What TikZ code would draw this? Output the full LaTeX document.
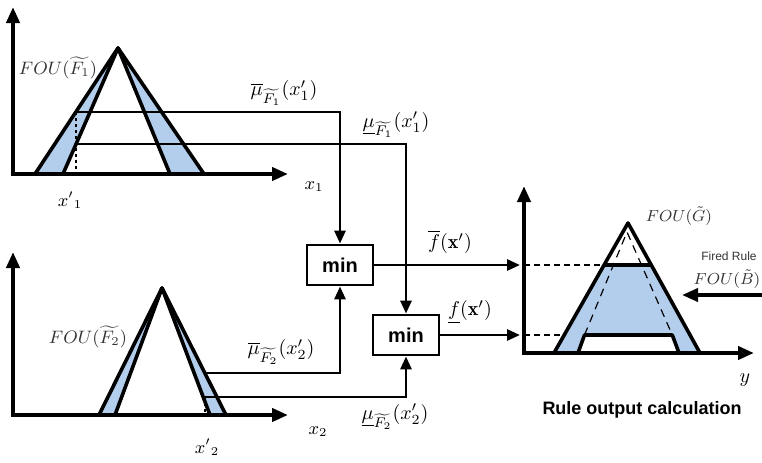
\documentclass[tikz,border=0pt]{standalone}
\usepackage{amsmath,amssymb}
\usepackage{fontspec}
\setsansfont{Liberation Sans}
\usepackage{tikz}
\usetikzlibrary{arrows.meta}
\definecolor{foublue}{RGB}{178,206,236}
\tikzset{
  axis/.style={black, line width=2pt,
               {Triangle[length=8pt,width=6.5pt]}-{Triangle[length=8pt,width=6.5pt]}},
  edge/.style={black, line width=1.8pt, line join=round},
  band/.style={fill=foublue},
  wire/.style={black, line width=1.4pt},
  flow/.style={wire, -{Triangle[length=6.5pt,width=5.5pt]}},
  bigflow/.style={black, line width=1.8pt, -{Triangle[length=8pt,width=6.5pt]}},
  level/.style={black, line width=1.4pt, dash pattern=on 1.6pt off 1.4pt},
  guide/.style={black, line width=1.4pt, dash pattern=on 3pt off 2pt},
  innerfou/.style={black, line width=0.6pt, dash pattern=on 4pt off 3pt},
  minbox/.style={draw=black, line width=1.4pt, fill=white,
                 minimum width=33pt, minimum height=20pt, inner sep=0pt,
                 font=\sffamily\bfseries},
  fou/.style={font=\small, text=black!80},
  smallfou/.style={font=\footnotesize, text=black!80},
  lab/.style={font=\normalsize},
  axlab/.style={font=\small},
}
\begin{document}
\begin{tikzpicture}[x=0.5pt,y=-0.5pt]
  \path[use as bounding box] (0,0) rectangle (762,462);

  % first antecedent
  \fill[band] (35,174) -- (118,48) -- (63,174) -- cycle;
  \fill[band] (118,48) -- (204,174) -- (170,174) -- cycle;
  \coordinate (u1) at (76,112);
  \coordinate (l1) at (76,144);
  \coordinate (xa) at (76,174);
  \draw[level] (u1) -- (xa);
  \draw[edge] (35,174) -- (118,48) -- (204,174);
  \draw[edge] (63,174) -- (118,48) -- (170,174);
  \draw[axis] (13,7) -- (13,174) -- (288,174);
  \node[fou] (fouA) at (58,68) {$FOU(\widetilde{F_1})$};
  \node[axlab] (xpA) at (70,200) {${x'}_1$};
  \node[axlab] (xA) at (314,187) {$x_1$};

  % second antecedent
  \fill[band] (99,415) -- (162,288) -- (115,415) -- cycle;
  \fill[band] (162,288) -- (226,415) -- (210,415) -- cycle;
  \coordinate (u2) at (205,373);
  \coordinate (l2) at (205,397);
  \coordinate (xb) at (205,415);
  \draw[level] (l2) -- (xb);
  \draw[edge] (99,415) -- (162,288) -- (226,415);
  \draw[edge] (115,415) -- (162,288) -- (210,415);
  \draw[axis] (13,252) -- (13,415) -- (288,415);
  \node[fou] (fouB2) at (88,337) {$FOU(\widetilde{F_2})$};
  \node[axlab] (xpB) at (207,447) {${x'}_2$};
  \node[axlab] (xB) at (318,432) {$x_2$};

  % firing strength
  \node[minbox] (minU) at (340,265) {min};
  \node[minbox] (minL) at (406,335) {min};
  \draw[flow] (u1) -| (minU.north);
  \draw[flow] (l1) -| (minL.north);
  \draw[flow] (u2) -| (minU.south);
  \draw[flow] (l2) -| (minL.south);
  \node[lab] (muAU) at (284,93) {$\overline{\mu}_{\widetilde{F_1}}(x'_1)$};
  \node[lab] (muAL) at (396,125) {$\underline{\mu}_{\widetilde{F_1}}(x'_1)$};
  \node[lab] (muBU) at (281,352) {$\overline{\mu}_{\widetilde{F_2}}(x'_2)$};
  \node[lab] (muBL) at (395,417) {$\underline{\mu}_{\widetilde{F_2}}(x'_2)$};

  % consequent
  \fill[band] (554,353) -- (604.1,265) -- (651.3,265) -- (700,353) -- (679,353)
    -- (672.3,335) -- (584.5,335) -- (578,353) -- cycle;
  \draw[innerfou] (584.5,335) -- (627,232) -- (672.3,335);
  \draw[edge] (554,353) -- (628,223) -- (700,353);
  \draw[edge] (604.1,265) -- (651.3,265);
  \draw[edge] (578,353) -- (584.5,335) -- (672.3,335) -- (679,353);
  \draw[axis] (524,186) -- (524,353) -- (754,353);
  \coordinate (gU) at (524,265);
  \coordinate (gL) at (524,335);
  \draw[guide] (gU) -- (604.1,265);
  \draw[guide] (gL) -- (564.2,335);
  \draw[flow, shorten >=2pt] (minU.east) -- (gU);
  \draw[flow, shorten >=2pt] (minL.east) -- (gL);
  \node[lab] (fU) at (450,242) {$\overline{f}(\mathbf{x}')$};
  \node[lab] (fL) at (470,312) {$\underline{f}(\mathbf{x}')$};

  \node[smallfou] (fouG) at (679,216) {$FOU(\tilde{G})$};
  \node[font=\fontsize{6}{7}\selectfont\sffamily, text=black!80] (fired) at (729,256) {Fired Rule};
  \node[smallfou] (fouBt) at (727,279) {$FOU(\tilde{B})$};
  \coordinate (frS) at (762,295);
  \coordinate (frE) at (682,295);
  \draw[bigflow] (frS) -- (frE);
  \node[lab] (yax) at (745,380) {$y$};
  \node[font=\small\sffamily\bfseries] (title) at (642,410) {Rule output calculation};
\end{tikzpicture}
\end{document}
